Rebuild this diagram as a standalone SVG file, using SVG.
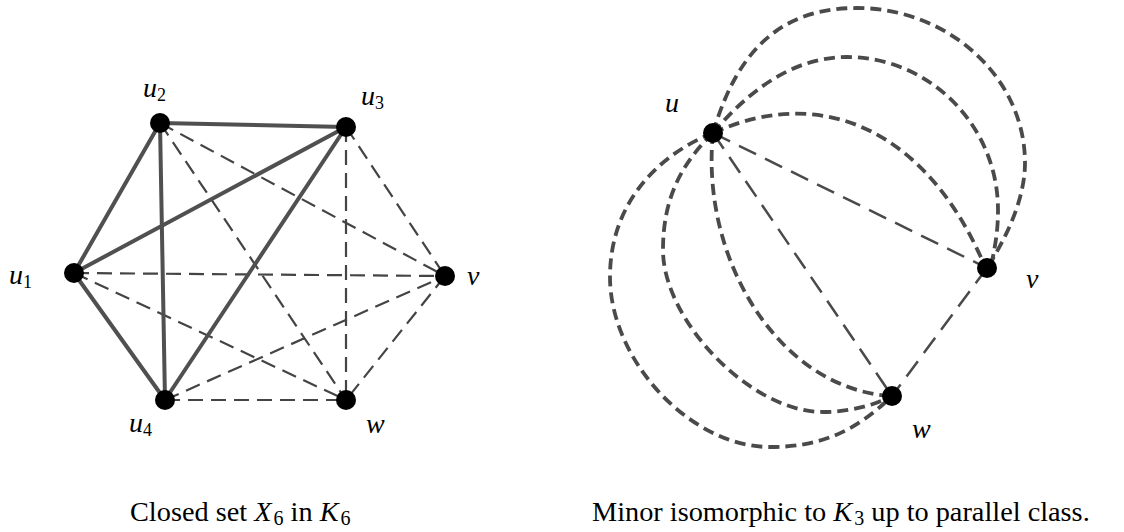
<svg xmlns="http://www.w3.org/2000/svg" width="1124" height="532" viewBox="0 0 1124 532">
<style>
.solid{stroke:#505050;stroke-width:4;fill:none;stroke-linecap:round}
.dl{stroke:#444;stroke-width:2.2;fill:none;stroke-dasharray:15 8}
.ds{stroke:#4a4a4a;stroke-width:2.5;fill:none;stroke-dasharray:19 10}
.dc{stroke:#4a4a4a;stroke-width:3.8;fill:none;stroke-dasharray:11 6}
.node{fill:#000}
.lab{font-family:"Liberation Serif","Times New Roman",serif;font-style:italic;font-size:28px;fill:#000}
.sub{font-style:normal;font-size:18px}
.cap{font-family:"Liberation Serif","Times New Roman",serif;font-size:28.3px;fill:#000}
.mi{font-style:italic}
.cs{font-size:20px}
</style>
<rect width="1124" height="532" fill="#fff"/>
<g id="connectors">
  <g id="left-dashed">
    <line class="dl" x1="160" y1="123" x2="445" y2="276"/>
    <line class="dl" x1="160" y1="123" x2="346" y2="400"/>
    <line class="dl" x1="346" y1="127" x2="445" y2="276"/>
    <line class="dl" x1="346" y1="127" x2="346" y2="400"/>
    <line class="dl" x1="74" y1="273" x2="445" y2="276"/>
    <line class="dl" x1="74" y1="273" x2="346" y2="400"/>
    <line class="dl" x1="165" y1="400" x2="445" y2="276"/>
    <line class="dl" x1="165" y1="400" x2="346" y2="400"/>
    <line class="dl" x1="445" y1="276" x2="346" y2="400"/>
  </g>
  <g id="left-solid">
    <line class="solid" x1="160" y1="123" x2="346" y2="127"/>
    <line class="solid" x1="74" y1="273" x2="160" y2="123"/>
    <line class="solid" x1="74" y1="273" x2="346" y2="127"/>
    <line class="solid" x1="160" y1="123" x2="165" y2="400"/>
    <line class="solid" x1="346" y1="127" x2="165" y2="400"/>
    <line class="solid" x1="74" y1="273" x2="165" y2="400"/>
  </g>
  <g id="right-edges">
    <line class="ds" x1="713" y1="133" x2="987" y2="268"/>
    <line class="ds" x1="713" y1="133" x2="892" y2="396"/>
    <line class="ds" x1="987" y1="268" x2="892" y2="396"/>
    <path class="dc" d="M713,133 C830,80 930,140 983,262"/>
    <path class="dc" d="M713,133 C745,95 790,57 847,57 C930,57 998,126 998,210 C998,235 994,250 992,262"/>
    <path class="dc" d="M713,133 C740,40 790,8 857,8 C949,8 1025,78 1025,163 C1025,200 1005,240 987,268"/>
    <path class="dc" d="M713,133 C700,260 780,390 892,396"/>
    <path class="dc" d="M713,133 C680,165 663,200 663,250 C663,320 750,412 823,412 C850,412 875,405 892,396"/>
    <path class="dc" d="M713,133 C662,153 610,200 610,277 C610,360 690,447 770,447 C820,447 855,432 892,396"/>
  </g>
</g>
<g id="node-u1"><circle class="node" cx="74" cy="273" r="10"/><text class="lab" x="9" y="284">u<tspan class="sub" dy="4">1</tspan></text></g>
<g id="node-u2"><circle class="node" cx="160" cy="123" r="10"/><text class="lab" x="143" y="97">u<tspan class="sub" dy="4">2</tspan></text></g>
<g id="node-u3"><circle class="node" cx="346" cy="127" r="10"/><text class="lab" x="361" y="105">u<tspan class="sub" dy="4">3</tspan></text></g>
<g id="node-u4"><circle class="node" cx="165" cy="400" r="10"/><text class="lab" x="129" y="432">u<tspan class="sub" dy="4">4</tspan></text></g>
<g id="node-v"><circle class="node" cx="445" cy="276" r="10"/><text class="lab" x="467" y="285">v</text></g>
<g id="node-w"><circle class="node" cx="346" cy="400" r="10"/><text class="lab" x="366" y="433">w</text></g>
<g id="node-ru"><circle class="node" cx="713" cy="133" r="10"/><text class="lab" x="665" y="112">u</text></g>
<g id="node-rv"><circle class="node" cx="987" cy="268" r="10"/><text class="lab" x="1026" y="288">v</text></g>
<g id="node-rw"><circle class="node" cx="892" cy="396" r="10"/><text class="lab" x="912" y="438">w</text></g>
<g id="captions">
  <text class="cap" x="130" y="521">Closed set <tspan class="mi">X</tspan><tspan class="cs" dx="2" dy="4">6</tspan><tspan dy="-4"> in </tspan><tspan class="mi">K</tspan><tspan class="cs" dx="2" dy="4">6</tspan></text>
  <text class="cap" x="592" y="521">Minor isomorphic to <tspan class="mi">K</tspan><tspan class="cs" dx="2" dy="4">3</tspan><tspan dy="-4"> up to parallel class.</tspan></text>
</g>
</svg>
